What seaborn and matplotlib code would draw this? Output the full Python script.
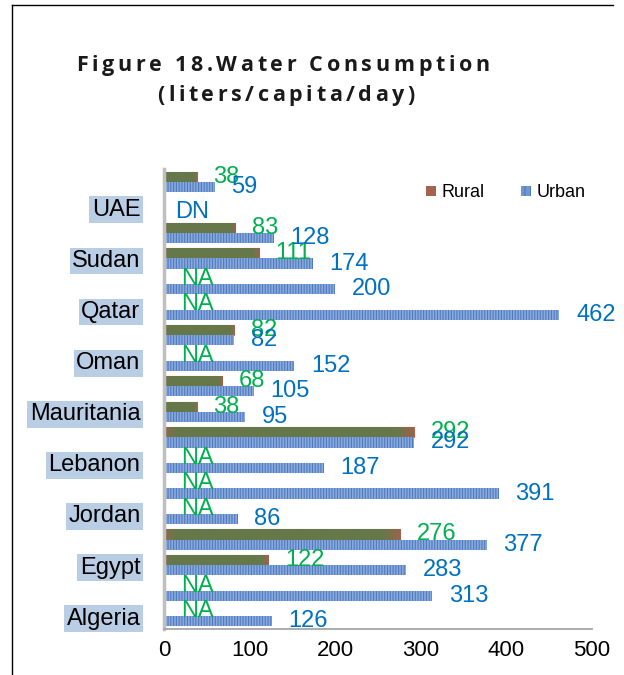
import numpy as np
import pandas as pd
import matplotlib
matplotlib.use("Agg")
import matplotlib.pyplot as plt
import seaborn as sns
from matplotlib.patches import Patch
from matplotlib.lines import Line2D
from matplotlib.colors import LinearSegmentedColormap
from matplotlib.font_manager import FontProperties
from matplotlib.textpath import TextToPath

# categories top -> bottom (Excel skipped every other axis label)
countries = ["Yemen", "UAE", "Syria", "Sudan", "Saudi Arabia", "Qatar",
             "Palestine", "Oman", "Morocco", "Mauritania", "Libya", "Lebanon",
             "Kuwait", "Jordan", "Iraq", "Egypt", "Bahrain", "Algeria"]
shown_labels = ["", "UAE", "", "Sudan", "", "Qatar", "", "Oman", "",
                "Mauritania", "", "Lebanon", "", "Jordan", "", "Egypt", "", "Algeria"]

nan = np.nan
rural = [38, nan, 83, 111, nan, nan, 82, nan, 68, 38, 292, nan, nan, nan, 276, 122, nan, nan]
urban = [59, nan, 128, 174, 200, 462, 82, 152, 105, 95, 292, 187, 391, 86, 377, 283, 313, 126]
rural_text = ["38", "", "83", "111", "NA", "NA", "82", "NA", "68", "38", "292",
              "NA", "NA", "NA", "276", "122", "NA", "NA"]
urban_text = ["59", "DN", "128", "174", "200", "462", "82", "152", "105", "95", "292",
              "187", "391", "86", "377", "283", "313", "126"]

df = pd.DataFrame({
    "country": countries * 2,
    "area": ["Rural"] * len(countries) + ["Urban"] * len(countries),
    "value": rural + urban,
}).fillna(0)

plt.rcParams["font.family"] = ["Liberation Sans", "DejaVu Sans"]
plt.rcParams["hatch.linewidth"] = 0.8

W, H = 624, 675
fig = plt.figure(figsize=(W / 100, H / 100), dpi=100)
ax = fig.add_axes([164 / W, 1 - 629 / H, (592 - 164) / W, (629 - 169) / H])

sns.barplot(data=df, x="value", y="country", hue="area", order=countries,
            hue_order=["Rural", "Urban"], orient="h", width=0.8, dodge=True,
            palette={"Rural": "#6A7A4A", "Urban": "#8BAADC"}, saturation=1,
            legend=False, ax=ax)

rural_bars, urban_bars = ax.containers[0], ax.containers[1]
for p in urban_bars:
    p.set_hatch("||||||")
    p.set_edgecolor("#4E7AC0")
    p.set_linewidth(0)

# olive bars with brownish ends, like the Excel gradient fill
grad = LinearSegmentedColormap.from_list(
    "rural", [(0, "#8E6A4C"), (0.05, "#66784A"), (0.93, "#66784A"), (1, "#9A654D")])
for p in rural_bars:
    p.set_edgecolor("#A8664F")
    p.set_linewidth(0.8)
    if p.get_width() > 0:
        x0, y0, w, h = p.get_x(), p.get_y(), p.get_width(), p.get_height()
        im = ax.imshow(np.linspace(0, 1, 256)[None, :], cmap=grad, aspect="auto",
                       extent=(x0, x0 + w, y0 + h, y0), interpolation="bilinear",
                       zorder=p.get_zorder() + 0.1)
        im.set_clip_path(p)

# value labels
for bars, texts, color in [(rural_bars, rural_text, "#00B050"),
                           (urban_bars, urban_text, "#0070C0")]:
    for p in bars:
        yc = p.get_y() + p.get_height() / 2
        i = int(round(yc))
        if p.get_width() == 0:
            p.set_visible(False)
        t = texts[i]
        if not t:
            continue
        off = 8 if t == "DN" else 12
        ax.annotate(t, (p.get_width(), yc), xytext=(off, 0), textcoords="offset points",
                    ha="left", va="center", color=color, fontsize=17, zorder=5)

ax.set_xlim(0, 500)
ax.set_ylim(len(countries) - 0.5, -0.5)
ax.set_xticks(range(0, 501, 100))
ax.set_yticks(range(len(countries)))
ax.set_yticklabels(shown_labels)
for lab in ax.get_yticklabels():
    if lab.get_text():
        lab.set_bbox(dict(facecolor="#B9CDE5", edgecolor="none", pad=1.0))
ax.tick_params(axis="y", length=0, pad=17, labelsize=17)
ax.tick_params(axis="x", length=0, pad=8, labelsize=16)
ax.set_xlabel("")
ax.set_ylabel("")
for s in ["top", "right"]:
    ax.spines[s].set_visible(False)
ax.spines["left"].set_color("#BFBFBF")
ax.spines["left"].set_linewidth(2.5)
ax.spines["bottom"].set_color("#A6A6A6")
ax.spines["bottom"].set_linewidth(1.3)

handles = [Patch(facecolor="#A3634F", edgecolor="none"),
           Patch(facecolor="#6F96D1", edgecolor="#4E7AC0", linewidth=0, hatch="|||")]
ax.legend(handles, ["Rural", "Urban"], loc="center left", bbox_to_anchor=(0.592, 0.948),
          ncol=2, frameon=False, fontsize=13, handlelength=0.55, handleheight=0.55,
          handletextpad=0.3, columnspacing=2.0, borderpad=0)

# title with letter spacing, one glyph at a time
ttp = TextToPath()
def tracked(s, xc, base, size, width_px):
    fp = FontProperties(family="Open Sans", weight="bold", size=size)
    ws = [ttp.get_text_width_height_descent(c, fp, ismath=False)[0] * 100 / 72 for c in s]
    track = (width_px - sum(ws)) / (len(s) - 1)
    x = xc - width_px / 2
    for c, w in zip(s, ws):
        fig.text(x / W, 1 - base / H, c, fontproperties=fp, ha="left", va="baseline",
                 color="#1A1A1A")
        x += w + track

tracked("Figure 18.Water Consumption", 283, 71, 15.5, 414)
tracked("(liters/capita/day)", 286, 101, 15.5, 258)

# chart frame
fig.add_artist(Line2D([12 / W, 12 / W], [0, 1 - 5 / H], transform=fig.transFigure, color="black", lw=1))
fig.add_artist(Line2D([12 / W, 613 / W], [1 - 5 / H, 1 - 5 / H], transform=fig.transFigure, color="black", lw=1))

fig.savefig("out.png", dpi=100)
